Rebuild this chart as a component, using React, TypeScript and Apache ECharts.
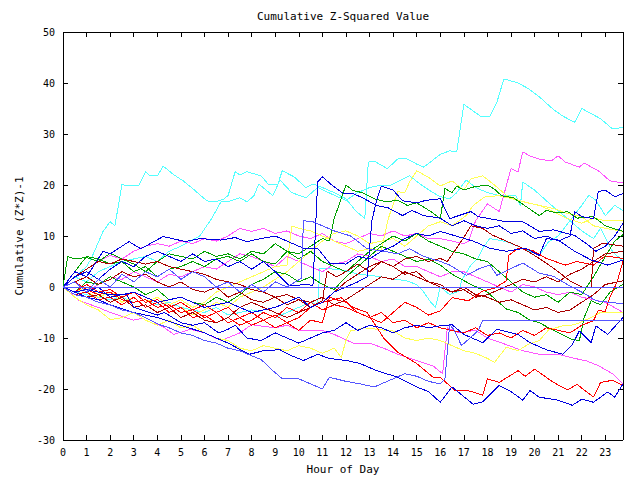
import React, { useEffect, useRef } from "react";
import * as echarts from "echarts";

const CYAN = "#55ffff";
const MAGENTA = "#ff55ff";
const YELLOW = "#ffff55";
const BLUE = "#0000e0";
const LBLUE = "#5555ff";
const GREEN = "#00a000";
const RED = "#ff0000";
const DRED = "#aa0000";

const TITLE = "Cumulative Z-Squared Value";
const X_NAME = "Hour of Day";
const Y_NAME = "Cumulative (Z*Z)-1";

const cyanTop = [[0,0],[0.5,2],[1,4],[1.2,5.6],[1.7,10.9],[2,12.8],[2.2,12],[2.4,17.3],[2.5,20.2],[2.7,19.8],[3,20],[3.2,19.8],[3.5,22.6],[3.7,21.8],[4,21.8],[4.25,23.7],[4.7,22],[5.1,20.8],[5.5,19.3],[6.1,16.9],[6.45,16.7],[6.8,17.2],[7,17.9],[7.3,22.6],[7.5,22],[7.8,22.6],[8.4,21.8],[8.7,20.2],[9.1,20],[9.3,22.8],[9.8,21.6],[10.3,19.5],[10.6,20.2],[11,19.5],[11.5,18.5],[12,17.3],[12.4,15],[12.8,13.4],[12.95,24.5],[13.2,24.7],[13.75,23.2],[14.2,25.1],[14.6,25.1],[15,24.1],[15.3,23.5],[16,26],[16.4,26.7],[16.7,26.5],[17,35.8],[17.4,34.5],[17.7,33.5],[18.1,33.5],[18.4,36.2],[18.7,40.8],[19.3,40],[19.7,39],[20.2,37.3],[20.8,34.8],[21.2,33.5],[21.7,32.3],[22,35],[22.4,34],[22.8,33],[23.3,31],[23.75,31.3]];
const cyanMid = [[0,0],[0.5,2],[1,1],[1.5,3],[2,4],[2.5,5],[3,5.5],[3.5,6],[4,5],[4.5,7],[5,8],[5.8,10],[6.3,13.4],[6.7,16.7],[7,16.7],[7.5,17.5],[7.8,16.7],[8.1,17.9],[8.3,20.2],[8.9,17.9],[9.2,21],[9.7,18.5],[10.3,17.5],[10.8,19.5],[11.5,18],[12,17],[12.5,18.5],[13,19.5],[13.5,20],[13.9,20],[14.7,21.8],[15.2,20],[15.7,18.5],[16,17.7],[16.4,17.3],[16.7,18.5],[17.1,21],[17.5,19.5],[18,18.5],[18.5,17.9],[19.2,17.9],[19.4,16],[19.5,20.6],[20,19],[20.6,16.5],[21.4,13.4],[22,11],[22.5,9.5],[22.8,11.5],[23.3,7],[23.75,5]];
const cyanLow = [[0,0],[0.5,-1],[1,-1.5],[1.5,-2],[2,-2.5],[2.5,-2],[3,-3],[3.5,-2.5],[4,-3.5],[4.5,-3],[5,-4],[5.5,-4.5],[6,-5],[6.5,-4],[7,-5.5],[7.5,-5],[8,-4.5],[8.5,-5],[9,-6],[9.5,-5],[10,-4],[10.5,-3],[10.8,-3.5],[10.9,3.7],[11.5,3.5],[12,3.2],[12.5,2.5],[13,2.3],[13.5,2],[14,1.5],[14.5,1.3],[15,0.5],[15.3,-1],[15.6,-3],[15.8,-4],[16,0],[16.4,-1.5],[16.8,-0.8],[16.9,1.2],[17.3,4.3],[17.6,5.6],[17.8,7.6],[18.1,9.5],[18.8,8.9],[19.5,7.6],[20.2,6.2],[20.6,8.9],[21,10],[21.5,13],[22,16],[22.3,18],[22.6,17],[23,14],[23.4,16],[23.75,15]];
const magentaHigh = [[0,0],[0.5,2],[1,3.5],[1.5,5],[2,6.2],[2.5,5.5],[3,7],[3.5,8],[4,8.5],[4.5,8],[5,9],[5.5,8.5],[6,9.5],[6.5,9],[7,10],[7.5,11.5],[8,10.9],[8.5,11.5],[9,10.5],[9.5,11],[10,10],[10.5,9.5],[11,10.5],[11.5,9],[12,8.5],[12.5,9.5],[13,10.5],[13.5,10],[14,11],[14.5,10],[15,10.5],[15.5,9.5],[16,9.5],[16.5,9],[17,8.5],[17.2,9],[17.5,13],[17.8,15],[18,16.3],[18.5,14.8],[19,23.2],[19.3,22.6],[19.5,26.5],[19.8,25.7],[20.2,25.1],[20.7,24.7],[21,25.7],[21.3,24.5],[21.9,23.5],[22.1,24.3],[22.7,22.8],[23.2,20.8],[23.75,20.4]];
const magentaMid = [[0,0],[0.5,1],[1,-1],[1.5,0.5],[2,2],[2.5,1.5],[3,3],[3.5,2],[4,1],[4.5,2.5],[5,2],[5.5,3],[6,4],[6.5,3.5],[7,5],[7.5,6.5],[8,6],[8.5,5],[9,4],[9.5,6],[10,5],[10.5,4],[11,3],[11.5,4.5],[12,5],[12.5,6.5],[13,6],[13.5,5],[14,5.5],[14.5,4],[15,4],[15.5,3],[16,2],[16.5,3],[17,3],[17.5,2],[18,1],[18.5,0],[19,-1],[19.5,0.5],[20,0],[20.5,-1],[21,-1.5],[21.5,-1],[22,-2],[22.5,-2.5],[23,-3],[23.75,-5]];
const magentaLow = [[0,0],[0.7,-2.7],[1.5,-4],[2,-5],[3,-6.5],[3.5,-6],[4.3,-8],[4.7,-9.3],[5.4,-8.3],[6,-9],[6.7,-10.5],[7.5,-9],[8,-7.4],[9,-8],[9.5,-7.5],[10,-8.5],[11,-8.5],[11.5,-9.3],[12.3,-11],[13,-11],[13.6,-12],[14.2,-13.2],[15,-14.4],[15.7,-15.5],[16.1,-17],[16.3,-8],[16.8,-9],[17.5,-8.5],[18,-10],[18.8,-11.3],[19.5,-12.5],[20.2,-13.2],[21,-13.2],[21.7,-14],[22.2,-14.5],[22.7,-15.4],[23.3,-17],[23.75,-19]];
const yellowHigh = [[0,0],[0.5,-1],[1,0],[1.5,-1.5],[2,-1],[2.5,-2],[3,-1],[3.5,-3],[4,-2],[4.5,-3.5],[5,-2.5],[5.5,-4],[6,-3],[6.5,-1],[7,0],[7.5,1],[8,2],[8.5,3],[9,4],[9.5,4.3],[9.7,12],[10,11.5],[10.5,11],[11,10],[11.5,9],[12,8],[12.5,7],[13,7.5],[13.5,7.2],[13.8,13.5],[14.2,18.7],[14.5,18.5],[14.7,20.6],[15,22.8],[15.5,21.5],[16,19.8],[16.5,20.8],[17,19],[17.3,21.2],[17.8,21.8],[18.3,20],[18.8,18],[19.5,16.7],[20.2,16],[20.8,14.8],[21.4,13.4],[22,12.5],[22.5,13.5],[23,13],[23.75,13]];
const yellowMid = [[0,0],[0.5,1],[1,-1],[1.5,-2],[2,-1],[2.5,-3],[3,-2],[3.5,-4],[4,-3],[4.5,-5],[5,-4],[5.5,-5.5],[6,-4.5],[6.5,-3],[7,-4],[7.5,-2],[8,-1],[8.5,0],[9,1.5],[9.5,3],[10,5],[10.5,7],[11,9],[11.5,10.5],[12,11],[12.5,10],[13,8.5],[13.5,9],[14,9.5],[14.5,8],[15,10],[15.5,12],[16,12.8],[16.5,12],[17.1,14],[17.4,16],[17.9,17.7],[18.5,17.9],[19.3,17],[19.8,16.4],[20.2,16],[20.8,15.4],[21.4,14.4],[22,13.8],[22.5,12],[23,11.5],[23.75,10.9]];
const yellowLow = [[0,0],[0.5,-2],[1,-3.5],[1.5,-4.5],[2,-6.4],[2.5,-6],[3,-5],[3.5,-6.5],[4,-7.5],[4.5,-6.5],[5,-8],[5.5,-7.5],[6,-9],[6.5,-10],[7,-10.5],[7.5,-12],[8,-12.5],[8.5,-11.5],[9,-12],[9.5,-12.5],[10,-11.5],[10.5,-12],[11,-13],[11.5,-12],[11.8,-13.8],[12,-10.5],[12.2,-8.6],[12.8,-8],[13.5,-8.4],[14,-8.6],[14.5,-10],[15,-10.5],[15.5,-10],[16,-10.5],[16.5,-11.5],[17,-12.5],[17.5,-13],[18,-14],[18.3,-14.8],[18.8,-11.8],[19.3,-12.5],[19.7,-11.3],[20.2,-10.5],[20.6,-8.4],[21.2,-7.6],[21.7,-7.4],[22.2,-6.4],[22.8,-5],[23.75,-5]];
const blueJumpA = [[0,0],[0.5,2],[1,3],[1.5,1.5],[2,3.5],[2.5,5],[3,4],[3.5,6],[4,7],[4.5,6],[5,5],[5.5,6.5],[6,5],[6.5,5.5],[7,4],[7.5,5],[8,3.5],[8.5,5],[9,3],[9.6,0.2],[10.3,0.5],[10.6,0.3],[10.8,20.6],[11,21.6],[11.4,20],[11.9,18.3],[12.3,18.3],[12.7,17.5],[13.3,16],[13.8,15.5],[14.4,14],[14.8,15],[15.3,14],[16,13.5],[16.5,12],[17,13],[17.5,12],[18,11.5],[18.5,12],[19,10.5],[19.5,11],[20,9.5],[20.5,10],[21,9],[21.5,10],[21.7,14.8],[22,13.8],[22.5,13.4],[22.7,18.7],[23,19],[23.4,17.7],[23.75,18.3]];
const blueJumpB = [[0,0],[0.5,1],[1,-1],[1.5,0],[2,-2],[3,-1],[4,-3],[5,-2],[6,-4],[7,-3],[8,-5],[9,-4],[10,-2],[10.5,-4],[11,-3],[11.5,-1],[12,0],[12.5,1],[12.9,2],[13.1,13],[13.3,17],[13.5,19.8],[14,19],[14.4,16.9],[15,16.5],[15.4,17],[16,17.3],[16.4,13.4],[17.3,14.8],[17.6,13.8],[18.8,12.8],[19.5,12.8],[20.2,10.9],[20.8,11.2],[21.7,10.1],[22.2,8.5],[22.6,7],[23,8],[23.4,10],[23.75,12.5]];
const blueUpper = [[0,0],[0.5,3],[1,2],[1.7,7],[2,6.5],[2.8,8.9],[3.3,7.5],[4.25,9.9],[5.2,8.9],[5.8,9.5],[6.7,9.2],[7.3,9.7],[7.8,8.9],[8.4,9.5],[9,10],[9.5,9],[10.2,7.6],[10.8,7.6],[11.3,4.7],[12,4.5],[12.5,6],[13,5.5],[13.5,7],[14,8],[14.5,9.5],[15,10.5],[15.5,10],[16,10.9],[17.4,9],[18.1,7.6],[18.8,7],[19.6,7.6],[20.2,6.2],[20.5,9.5],[21,9.2],[21.7,7],[22.4,5.3],[23.1,4.3],[23.75,5.3]];
const blueLower = [[0,0],[0.5,-1],[1,-0.5],[2,-1.5],[2.7,-1.5],[3,-4],[4,-5.5],[4.3,-5],[5,-7],[5.5,-7.5],[6,-7],[6.6,-9],[7,-8.3],[7.3,-7.5],[7.8,-10],[8.4,-10.5],[9,-9],[9.5,-10],[10,-11],[10.5,-10],[11,-9],[11.5,-8.5],[12,-7],[12.5,-8.5],[13,-7.5],[13.5,-8],[14,-9],[14.5,-8],[15,-7.5],[15.5,-8],[16,-7.6],[16.5,-7.4],[17,-9.3],[17.8,-10.9],[18.4,-8.3],[19.3,-9.3],[19.8,-10.9],[20.5,-12.3],[21.2,-13.2],[21.6,-11.3],[21.9,-8.6],[22.4,-10.9],[22.6,-7.6],[23.1,-9.3],[23.75,-6]];
const blueBottom = [[0,0],[0.5,-1],[1,-2],[1.5,-2.5],[2,-3.5],[3,-5],[4,-6],[5,-7.5],[6,-9],[7,-11],[7.9,-13.2],[8.5,-12.5],[9.2,-12.3],[9.7,-13.5],[10.2,-14.4],[10.8,-13.2],[11.3,-14],[12,-14.4],[12.6,-15],[13.3,-16.4],[14.2,-17.7],[15,-19.6],[15.5,-20.5],[16,-22.6],[16.5,-19.6],[17,-21.5],[17.4,-23],[17.8,-22.5],[18.5,-19.3],[19,-20.5],[19.5,-22.2],[19.8,-20.3],[20.2,-21.6],[21,-22.2],[21.6,-23.2],[22,-22],[22.5,-22.6],[23.1,-20.6],[23.4,-21.6],[23.75,-19]];
const lblueZero = [[0,0],[23.75,0]];
const lblueFlat = [[0,0],[0.5,-1.5],[1,-2],[1.5,-3],[2,-3.5],[2.5,-4.5],[3,-5],[3.5,-6],[4.1,-7.4],[4.5,-8],[5,-9],[5.5,-9.5],[6,-10.5],[6.5,-11],[7,-12],[7.5,-12.5],[8,-13.5],[8.4,-14.2],[8.8,-16],[9.3,-18],[10,-18],[10.5,-19],[11,-20],[11.3,-17.7],[12,-18.5],[12.6,-19],[13.2,-19.6],[14,-18],[14.5,-17],[15,-17.5],[15.5,-18.5],[16,-19],[16.2,-18],[16.4,-7.4],[16.6,-8.5],[16.9,-11.5],[17.6,-8.6],[17.8,-6.6],[23.75,-6.6]];
const lblueMid = [[0,0],[0.5,1],[1,-1],[1.5,1.5],[2,0],[2.5,2.5],[3,1],[3.5,3],[4,2],[4.5,3.5],[5,1.5],[5.5,3],[6,2],[6.5,0],[7,1],[7.5,-1],[8,0.5],[8.5,-1],[9,1],[9.5,0],[10.1,1.7],[10.2,13],[10.6,12.8],[11,12],[11.5,11],[12.2,10],[12.9,7.5],[13.6,7],[14.2,6.5],[14.7,7.5],[15.3,6],[16,5],[16.4,4.3],[17.1,2.3],[17.7,3.7],[18.1,4.3],[18.4,2.3],[19.5,4.7],[20.2,2.7],[20.8,2.1],[21.5,0.2],[22.2,-1.5],[22.6,-2.7],[23.75,-3.3]];
const greenHigh = [[0,0],[0.5,3],[1,6],[1.5,5.5],[2,4.5],[2.5,5],[3,3],[3.5,4],[4,2],[4.5,3.5],[5,4],[5.5,5],[6,4],[6.5,5.5],[7,6],[7.5,5],[8,6.5],[8.5,5],[9,4.5],[9.5,7],[10,6.5],[10.5,8],[11,9.5],[11.3,9],[11.5,13.4],[12,20],[12.3,18.9],[12.7,18.5],[13.2,17.3],[13.7,16.7],[14.2,17],[14.6,16],[15,16.5],[15.6,14.8],[16,13.4],[16.2,19.3],[16.5,18.5],[16.7,19.8],[17,19],[17.4,19.6],[18,20],[18.3,19.2],[18.6,17.9],[19.1,17.5],[19.6,15.9],[20.2,14],[20.5,15],[21,14.5],[21.4,14.8],[21.8,13.5],[22.5,13.8],[23,12],[23.75,10.9]];
const greenMid = [[0,0],[0.5,-1],[1,1],[1.5,0.5],[2,2],[2.5,1],[3,0],[3.5,-1.5],[4,-0.5],[4.5,-2.5],[5,-2],[5.5,-3],[6,-3.5],[6.5,-2],[7,-3],[7.5,-1.5],[8,0.5],[8.5,1.5],[9,3],[9.5,2.5],[10,1],[10.5,2],[11,0.5],[11.5,-0.5],[12,2],[12.5,4],[13,6],[13.5,8],[14,7],[14.5,6],[15,5],[15.5,5.5],[16,4.3],[16.5,2.5],[17.3,0.5],[18,-1],[18.4,-2.7],[18.8,-4.3],[19.3,-5],[19.8,-6.5],[20.2,-7],[20.8,-8.5],[21.6,-10.3],[21.9,-10.5],[22.1,-6],[22.4,-2.7],[22.8,-3.5],[23.2,-1],[23.75,0.5]];
const greenLow = [[0,0],[0.2,6],[0.5,5.5],[1,5.8],[1.5,5],[2,6.6],[2.5,5.5],[3,4.5],[3.5,3],[4,5],[4.5,6.5],[5,6],[5.5,5.5],[6,7],[6.5,6],[7,6.5],[7.5,5.5],[8,7],[8.5,6.5],[9,8.5],[9.5,7],[10,5.5],[10.5,7],[11,5],[11.5,4],[12,3],[12.5,5],[13,7],[13.5,8.5],[14,10],[14.5,9],[15,10.5],[15.5,9],[16,8],[16.5,7],[17,6.5],[17.5,5.5],[18,5],[18.5,3],[19,1],[19.5,-1],[20,-2],[20.5,-1.5],[21,-3],[21.5,-1],[22,-1.5],[22.5,2],[23,6],[23.4,9],[23.75,10.3]];
const redBottom = [[0,0],[0.5,-1],[1,0.5],[1.5,-1],[2,-0.5],[2.5,-2],[3,-1],[3.5,-3],[4,-2.5],[4.5,-4],[5,-3],[5.5,-4.5],[6,-3.5],[6.5,-5],[7,-4],[7.5,-6],[8,-5],[8.5,-6.5],[9,-5.5],[9.5,-7],[10,-6],[10.5,-4],[11,-3],[11.8,-2.1],[12.3,-4],[12.9,-5],[13.6,-10],[14.2,-12.8],[15,-15],[15.7,-17.7],[16,-17.7],[16.6,-20.2],[17.1,-20.2],[17.8,-21.2],[18,-18],[18.5,-18.7],[19.3,-16.4],[19.6,-17.5],[20,-16.1],[20.8,-18.7],[21.4,-20.2],[21.8,-19.1],[22.5,-21.6],[22.8,-18.7],[23.3,-18.3],[23.75,-19.3]];
const redLate = [[0,0],[0.5,1],[1,-0.5],[1.5,-1.5],[2,-1],[2.5,-2.5],[3,-3],[3.5,-2.5],[4,-4],[4.5,-3.5],[5,-5],[5.5,-4.5],[6,-6],[6.5,-5],[7,-7],[7.5,-6],[8,-7.5],[8.5,-6.5],[9,-8],[9.5,-7],[10,-8.5],[10.5,-6.5],[11,-7],[11.3,-2],[11.6,-2.5],[12,-3],[12.5,-5],[13,-6],[13.5,-5],[14,-7],[14.5,-6.5],[15,-8],[15.5,-7],[16,-8],[16.5,-8.5],[17,-9],[17.5,-8],[18,-9.5],[18.5,-9],[19,-10],[19.5,-8.5],[20,-9.5],[20.5,-8],[21,-8.5],[21.5,-9],[22,-7.5],[22.5,-6.6],[22.7,-4.6],[23,-4.8],[23.2,-2],[23.5,1],[23.75,5]];
const redRise = [[0,0],[0.5,-1.5],[1,-1],[1.5,-2.5],[2,-2],[2.5,-3.5],[3,-2],[3.5,-4],[4,-3],[4.5,-5],[5,-4],[5.5,-6],[6,-5.5],[6.5,-7],[7,-6],[7.5,-7.5],[8,-6.5],[8.5,-5],[9,-6],[9.5,-4],[10,-5],[10.5,-3],[11,-4.5],[11.5,-3.5],[12,-4],[13,-6],[13.5,-7],[14,-5],[14.5,-3],[15,-4],[15.5,-5.5],[16,-4.7],[16.5,-2.1],[17.2,-2.7],[17.8,-0.8],[18.3,-0.2],[18.8,1.2],[18.9,6.2],[19.3,7.6],[19.9,7.2],[20.5,5.6],[21.3,4.3],[21.8,5],[22.5,4.3],[23,6.1],[23.75,5.6]];
const dredJump = [[0,0],[0.5,1],[1,2],[1.5,0.5],[2,1.5],[2.5,3],[3,2],[3.5,2.5],[4,1],[4.5,0],[5,1],[5.5,-0.5],[6,-1],[6.5,0],[7,-2],[7.5,-1],[8,-2.5],[8.5,-3],[9,-2],[9.5,-3.5],[10,-2.5],[10.5,-4],[11,-3],[11.5,-1],[12,1],[12.5,2.5],[13,4],[13.5,5],[14,4],[14.5,5.5],[15,6],[15.5,5],[16,5.6],[16.3,5],[16.6,7],[17,9.7],[17.3,12],[17.8,11.5],[18.2,10.2],[18.8,9],[19.5,7.6],[20.2,5.6],[20.8,3.7],[21.5,1.2],[22,0],[22.4,-0.2],[22.5,7.6],[22.9,8.6],[23.75,8]];
const dredUpper = [[0,0],[0.5,2],[1,3.5],[1.5,5],[2,4.5],[2.5,5.5],[3,5],[3.5,4.5],[4,5],[4.5,4],[5,3.5],[5.5,3],[6,2.5],[6.5,1.5],[7,1],[7.5,0.5],[8,-0.5],[8.5,-1],[9,-2],[9.5,-1.5],[10,-2.5],[10.5,-3],[11,-2],[11.5,-3.5],[12,-2.5],[12.5,-1],[13,0.5],[13.5,2],[14,1.5],[14.5,3],[15,2],[15.5,1],[16,0],[16.5,-1],[17,-0.5],[17.5,-2],[18,-1.5],[18.5,-0.5],[19,0.5],[19.5,1.5],[20,1],[20.5,2],[21,1],[21.5,2.5],[22,3.5],[22.5,5],[23,6.5],[23.75,7]];
const dredLower = [[0,0],[0.5,-1],[1,-2],[1.5,-1.5],[2,-3],[2.5,-2],[3,-4],[3.5,-3.5],[4,-5],[4.5,-4],[5,-6],[5.5,-5],[6,-6.5],[6.5,-7],[7,-6],[7.5,-4],[8,-3],[8.5,-4],[9,-5],[9.5,-6],[10,-5],[10.5,-4],[11,-2.7],[11.2,3.1],[11.6,2],[12,3],[12.5,4.5],[13,3],[13.5,5],[14,4],[14.5,2.5],[15,3],[15.5,1],[16,0.5],[16.5,-1],[17,0],[17.5,-1.5],[18,-2],[18.5,-3],[19,-2.5],[19.5,-3.5],[20,-4.5],[20.5,-4],[21,-5],[21.5,-4.5],[22,-3],[22.5,-1.5],[23,0.5],[23.75,1.2]];

const lines = [
  { name: "c1", color: CYAN, data: cyanTop },
  { name: "c2", color: CYAN, data: cyanMid },
  { name: "c3", color: CYAN, data: cyanLow },
  { name: "m1", color: MAGENTA, data: magentaHigh },
  { name: "m2", color: MAGENTA, data: magentaMid },
  { name: "m3", color: MAGENTA, data: magentaLow },
  { name: "y1", color: YELLOW, data: yellowHigh },
  { name: "y2", color: YELLOW, data: yellowMid },
  { name: "y3", color: YELLOW, data: yellowLow },
  { name: "g1", color: GREEN, data: greenHigh },
  { name: "g2", color: GREEN, data: greenMid },
  { name: "g3", color: GREEN, data: greenLow },
  { name: "r1", color: RED, data: redBottom },
  { name: "r2", color: RED, data: redLate },
  { name: "r3", color: RED, data: redRise },
  { name: "d1", color: DRED, data: dredJump },
  { name: "d2", color: DRED, data: dredUpper },
  { name: "d3", color: DRED, data: dredLower },
  { name: "b1", color: BLUE, data: blueJumpA },
  { name: "b2", color: BLUE, data: blueJumpB },
  { name: "b3", color: BLUE, data: blueUpper },
  { name: "b4", color: BLUE, data: blueLower },
  { name: "b5", color: BLUE, data: blueBottom },
  { name: "l1", color: LBLUE, data: lblueFlat },
  { name: "l2", color: LBLUE, data: lblueMid },
  { name: "l0", color: LBLUE, data: lblueZero },
];

const FONT = "'DejaVu Sans Mono', monospace";

export default function App() {
  const ref = useRef<HTMLDivElement>(null);
  useEffect(() => {
    document.body.style.margin = "0";
    const chart = echarts.init(ref.current as HTMLDivElement, null, { renderer: "svg", width: 640, height: 480 });
    const line = { show: true, onZero: false, lineStyle: { color: "#000", width: 1 } };
    const tick = { show: true, inside: true, length: 5, lineStyle: { color: "#000", width: 1 } };
    const nameStyle = { fontFamily: FONT, fontSize: 11, color: "#000" };
    chart.setOption({
      animation: false,
      backgroundColor: "#ffffff",
      grid: { left: 63, right: 17, top: 32, bottom: 36 },
      graphic: [
        {
          type: "text",
          x: 343,
          y: 16,
          style: { text: TITLE, fontFamily: FONT, fontSize: 11, fill: "#000", align: "center", verticalAlign: "middle" },
        },
      ],
      xAxis: [
        {
          type: "value", min: 0, max: 23.75, interval: 1, position: "bottom",
          axisLine: line, axisTick: tick, splitLine: { show: false },
          axisLabel: {
            fontFamily: FONT, fontSize: 10, color: "#000", margin: 7, showMaxLabel: false,
            formatter: (v: number) => (Number.isInteger(v) ? String(v) : ""),
          },
          name: X_NAME, nameLocation: "middle", nameGap: 24, nameTextStyle: nameStyle,
        },
        {
          type: "value", min: 0, max: 23.75, interval: 1, position: "top",
          axisLine: line, axisTick: tick, splitLine: { show: false }, axisLabel: { show: false },
        },
      ],
      yAxis: [
        {
          type: "value", min: -30, max: 50, interval: 10, position: "left",
          axisLine: line, axisTick: tick, splitLine: { show: false },
          axisLabel: { fontFamily: FONT, fontSize: 10, color: "#000", margin: 8 },
          name: Y_NAME, nameLocation: "middle", nameGap: 38, nameTextStyle: nameStyle,
        },
        {
          type: "value", min: -30, max: 50, interval: 10, position: "right",
          axisLine: line, axisTick: tick, splitLine: { show: false }, axisLabel: { show: false },
        },
      ],
      series: lines.map((l) => ({
        type: "line",
        name: l.name,
        data: l.data,
        showSymbol: false,
        symbol: "none",
        xAxisIndex: 0,
        yAxisIndex: 0,
        lineStyle: { color: l.color, width: 1 },
        itemStyle: { color: l.color },
        emphasis: { disabled: true },
      })),
    });
    return () => chart.dispose();
  }, []);
  return (
    <>
      <style>{"#chartbox svg path { shape-rendering: crispEdges; }"}</style>
      <div id="chartbox" ref={ref} style={{ width: 640, height: 480 }} />
    </>
  );
}
